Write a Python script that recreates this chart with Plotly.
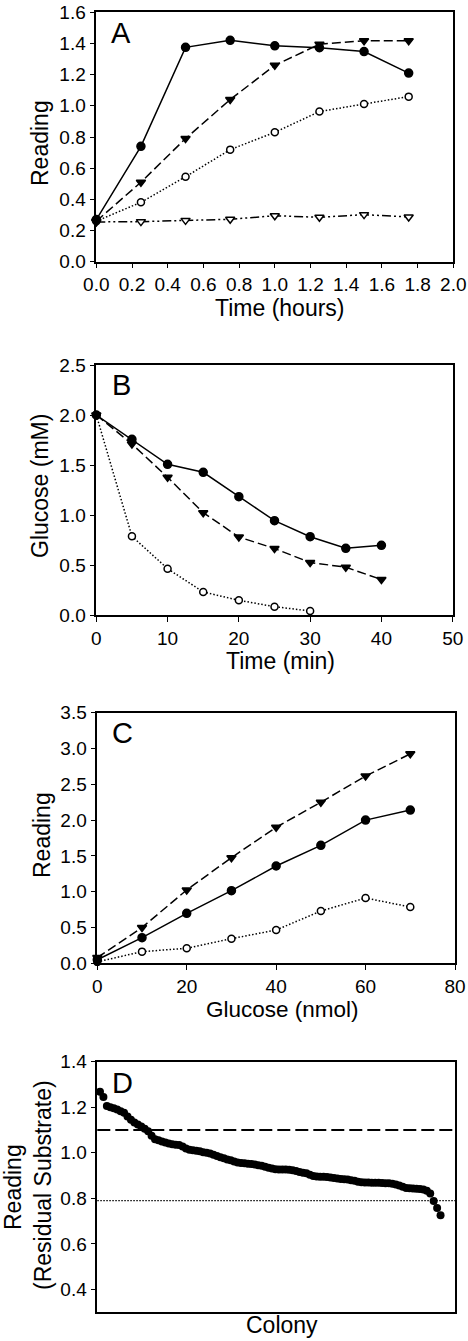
import plotly.graph_objects as go

W, H = 468, 1341
FONT = "Liberation Sans, Arial, sans-serif"

# ---------------- Panel A data ----------------
a_time = [0, 0.25, 0.5, 0.75, 1.0, 1.25, 1.5, 1.75]
a_filled_circle = [0.27, 0.74, 1.375, 1.42, 1.385, 1.373, 1.348, 1.21]
a_filled_tri = [0.26, 0.51, 0.79, 1.04, 1.26, 1.395, 1.418, 1.418]
a_open_circle = [0.26, 0.381, 0.545, 0.719, 0.83, 0.963, 1.012, 1.059]
a_open_tri = [0.255, 0.257, 0.265, 0.272, 0.295, 0.285, 0.302, 0.287]

# ---------------- Panel B data ----------------
b_time = [0, 5, 10, 15, 20, 25, 30, 35, 40]
b_filled_circle = [2.0, 1.757, 1.507, 1.427, 1.183, 0.943, 0.783, 0.667, 0.697]
b_filled_tri = [2.0, 1.71, 1.377, 1.023, 0.78, 0.665, 0.525, 0.478, 0.355]
b_open_time = [0, 5, 10, 15, 20, 25, 30]
b_open_circle = [2.0, 0.787, 0.463, 0.23, 0.147, 0.083, 0.04]

# ---------------- Panel C data ----------------
c_glucose = [0, 10, 20, 30, 40, 50, 60, 70]
c_filled_tri = [0.08, 0.5, 1.024, 1.475, 1.9, 2.25, 2.615, 2.925]
c_filled_circle = [0.05, 0.358, 0.698, 1.014, 1.359, 1.647, 2.0, 2.14]
c_open_circle = [0.02, 0.163, 0.209, 0.344, 0.465, 0.73, 0.912, 0.786]

# ---------------- Panel D data ----------------
d_reading = [
    1.268, 1.245, 1.205, 1.200, 1.196, 1.190, 1.183, 1.176, 1.160, 1.145,
    1.133, 1.124, 1.116, 1.106, 1.095, 1.075, 1.060, 1.055, 1.050, 1.045,
    1.041, 1.038, 1.036, 1.034, 1.028, 1.019, 1.014, 1.011, 1.009, 1.007,
    1.003, 1.000, 0.997, 0.992, 0.986, 0.981, 0.976, 0.971, 0.967, 0.962,
    0.958, 0.955, 0.954, 0.952, 0.951, 0.949, 0.946, 0.943, 0.939, 0.935,
    0.931, 0.928, 0.927, 0.927, 0.927, 0.926, 0.924, 0.920, 0.916, 0.913,
    0.910, 0.904, 0.898, 0.896, 0.895, 0.895, 0.894, 0.892, 0.890, 0.887,
    0.885, 0.884, 0.883, 0.880, 0.877, 0.873, 0.871, 0.870, 0.870, 0.869,
    0.869, 0.869, 0.868, 0.867, 0.866, 0.864, 0.861, 0.857, 0.851, 0.846,
    0.844, 0.843, 0.842, 0.841, 0.839, 0.834, 0.822, 0.788, 0.758, 0.726,
]
d_colony = list(range(1, len(d_reading) + 1))
d_high_cutoff = 1.1
d_low_cutoff = 0.79


def xd(p0, p1):
    return [p0 / W, p1 / W]


def yd(top, bottom):
    return [1 - bottom / H, 1 - top / H]


fig = go.Figure()

LW = 1.5


def series(x, y, xa, ya, symbol, filled, dash, size=8):
    fig.add_trace(go.Scatter(
        x=x, y=y, xaxis=xa, yaxis=ya, mode="lines+markers",
        line=dict(color="black", width=LW, dash=dash),
        marker=dict(symbol=symbol, size=size,
                    color="black" if filled else "white",
                    line=dict(color="black", width=1.5)),
        cliponaxis=False, showlegend=False))


DASH = "9px,4px"
DOT = "1.5px,2px"
DASHDOTDOT = "9px,3px,2px,3px,2px,3px"

# Panel A
series(a_time, a_open_tri, "x", "y", "triangle-down", False, DASHDOTDOT, 8)
series(a_time, a_open_circle, "x", "y", "circle", False, DOT, 7)
series(a_time, a_filled_tri, "x", "y", "triangle-down", True, DASH, 8)
series(a_time, a_filled_circle, "x", "y", "circle", True, "solid", 8)

# Panel B
series(b_open_time, b_open_circle, "x2", "y2", "circle", False, DOT, 7)
series(b_time, b_filled_tri, "x2", "y2", "triangle-down", True, DASH, 8)
series(b_time, b_filled_circle, "x2", "y2", "circle", True, "solid", 8)

# Panel C
series(c_glucose, c_open_circle, "x3", "y3", "circle", False, DOT, 7)
series(c_glucose, c_filled_tri, "x3", "y3", "triangle-down", True, DASH, 8)
series(c_glucose, c_filled_circle, "x3", "y3", "circle", True, "solid", 8)

# Panel D
fig.add_trace(go.Scatter(
    x=d_colony, y=d_reading, xaxis="x4", yaxis="y4", mode="markers",
    marker=dict(symbol="circle", size=8, color="black"),
    cliponaxis=False, showlegend=False))

axis_common = dict(
    showline=True, linecolor="black", linewidth=1.5, mirror=True,
    ticks="outside", ticklen=5, tickwidth=1.2, tickcolor="black",
    showgrid=False, zeroline=False, automargin=False,
    tickfont=dict(family=FONT, size=19, color="black"),
)

fig.update_layout(
    template="none",
    width=W, height=H, margin=dict(l=0, r=0, t=0, b=0, pad=0),
    plot_bgcolor="white", paper_bgcolor="white",
    font=dict(family=FONT, color="black"),
    showlegend=False,
    xaxis=dict(domain=xd(96.3, 453.3), anchor="y", range=[0, 2.0],
               tickvals=[0, 0.2, 0.4, 0.6, 0.8, 1.0, 1.2, 1.4, 1.6, 1.8, 2.0],
               tickformat=".1f", **axis_common),
    yaxis=dict(domain=yd(12.3, 261.7), anchor="x", range=[0, 1.6],
               tickvals=[0, 0.2, 0.4, 0.6, 0.8, 1.0, 1.2, 1.4, 1.6],
               tickformat=".1f", **axis_common),
    xaxis2=dict(domain=xd(96.3, 452.7), anchor="y2", range=[0, 50],
                tickvals=[0, 10, 20, 30, 40, 50], **axis_common),
    yaxis2=dict(domain=yd(365, 615), anchor="x2", range=[0, 2.5],
                tickvals=[0, 0.5, 1.0, 1.5, 2.0, 2.5], tickformat=".1f",
                **axis_common),
    xaxis3=dict(domain=xd(97.3, 455), anchor="y3", range=[0, 80],
                tickvals=[0, 20, 40, 60, 80], **axis_common),
    yaxis3=dict(domain=yd(712.7, 963.3), anchor="x3", range=[0, 3.5],
                tickvals=[0, 0.5, 1.0, 1.5, 2.0, 2.5, 3.0, 3.5],
                tickformat=".1f", **axis_common),
    xaxis4=dict(domain=xd(97.3, 455), anchor="y4", range=[0.22, 104.2],
                showticklabels=False,
                **{k: v for k, v in axis_common.items() if k != "ticks"},
                ticks=""),
    yaxis4=dict(domain=yd(1061.7, 1312.3), anchor="x4", range=[0.3, 1.4],
                tickvals=[0.4, 0.6, 0.8, 1.0, 1.2, 1.4], tickformat=".1f",
                **axis_common),
)

fig.add_shape(type="line", xref="x4 domain", yref="y4", x0=0, x1=1,
              y0=d_high_cutoff, y1=d_high_cutoff,
              line=dict(color="black", width=2, dash="13px,5px"))
fig.add_shape(type="line", xref="x4 domain", yref="y4", x0=0, x1=1,
              y0=d_low_cutoff, y1=d_low_cutoff,
              line=dict(color="black", width=1.3, dash="1.5px,1.5px"))


def label(text, px, py, size=23, angle=0):
    fig.add_annotation(text=text, x=px / W, y=1 - py / H, xref="paper",
                       yref="paper", showarrow=False, textangle=angle,
                       xanchor="center", yanchor="middle",
                       font=dict(family=FONT, size=size, color="black"))


# panel letters
label("A", 121, 33, 29)
label("B", 121, 385, 29)
label("C", 122, 733, 29)
label("D", 122, 1083, 29)

# axis titles
label("Time (hours)", 280, 308)
label("Reading", 40, 143, angle=-90)
label("Time (min)", 280, 661)
label("Glucose (mM)", 40, 486, angle=-90)
label("Glucose (nmol)", 282, 1009, 22.5)
label("Reading", 42, 835, angle=-90)
label("Colony", 282, 1325)
label("Reading", 13, 1187, angle=-90)
label("(Residual Substrate)", 43, 1185, angle=-90)

fig.write_html(
    "out.html",
    config={"displayModeBar": False},
    post_script="document.body.style.margin='0';"
                "document.body.style.overflow='hidden';",
)
